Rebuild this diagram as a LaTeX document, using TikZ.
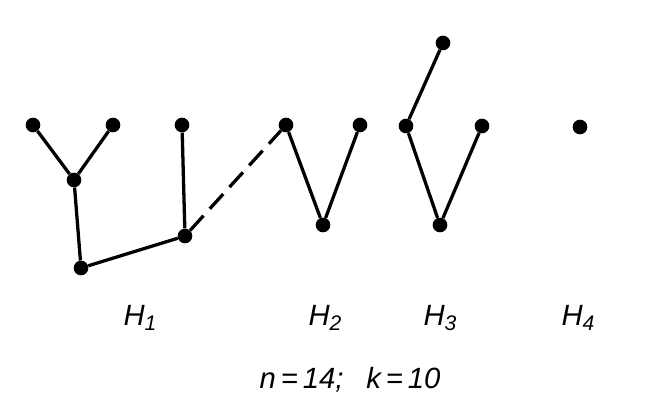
\documentclass[tikz,border=0pt]{standalone}
\usepackage{fontspec}
\setmainfont{Liberation Sans}
\usetikzlibrary{positioning}
\tikzset{
  vtx/.style={circle, fill=black, inner sep=0pt, minimum size=12.5pt},
  edge/.style={line width=2.8pt},
  lbl/.style={font=\fontsize{25}{30}\selectfont\itshape}
}
\newcommand{\sub}[1]{\raisebox{-0.35ex}{\fontsize{18}{20}\selectfont #1}}
\begin{document}
\begin{tikzpicture}[x=0.03cm, y=-0.03cm]
    \useasboundingbox (0,0) rectangle (671,413);
    % H1
    \node[vtx] (a1) at (33,125) {};
    \node[vtx] (a2) at (113,125) {};
    \node[vtx] (a3) at (74,180) {};
    \node[vtx] (a4) at (81,268) {};
    \node[vtx] (a5) at (182,125) {};
    \node[vtx] (a6) at (185,236) {};
    \draw[edge] (a1) -- (a3) -- (a2);
    \draw[edge] (a3) -- (a4) -- (a6) -- (a5);
    % H2
    \node[vtx] (b1) at (286,125) {};
    \node[vtx] (b2) at (360,125) {};
    \node[vtx] (b3) at (323,225) {};
    \draw[edge] (b1) -- (b3) -- (b2);
    \draw[edge, dash pattern=on 17pt off 8pt] (a6) -- (b1);
    % H3
    \node[vtx] (c1) at (443,43) {};
    \node[vtx] (c2) at (406,126) {};
    \node[vtx] (c3) at (482,126) {};
    \node[vtx] (c4) at (440,225) {};
    \draw[edge] (c1) -- (c2) -- (c4) -- (c3);
    % H4
    \node[vtx] (d1) at (580,127) {};
    % labels
    \node[lbl] (h1) at (140,318) {H\sub{1}};
    \node[lbl] (h2) at (325,318) {H\sub{2}};
    \node[lbl] (h3) at (440,318) {H\sub{3}};
    \node[lbl] (h4) at (578,318) {H\sub{4}};
    \node[lbl] (nk) at (350,380) {n\,=\,14;\enspace\ k\,=\,10};
\end{tikzpicture}
\end{document}
